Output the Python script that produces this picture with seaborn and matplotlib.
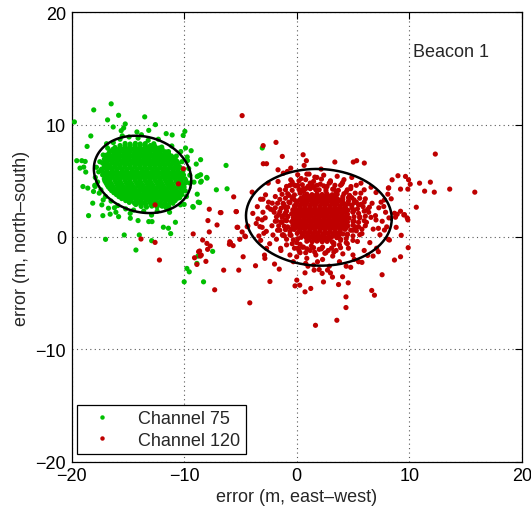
import numpy as np
import pandas as pd
import matplotlib
matplotlib.use("Agg")
import matplotlib.pyplot as plt
import seaborn as sns
from matplotlib.lines import Line2D

# ---------------- data ----------------
channels = ["Channel 75", "Channel 120"]
channel_colors = ["#00BF00", "#BF0000"]

# Channel 75: dense core
green_core = [
    (-13.82,2.72),(-13.35,2.66),(-12.88,2.75),(-12.41,2.68),(-11.96,2.74),
    (-14.88,3.08),(-14.42,3.01),(-13.97,3.07),(-13.53,3.03),(-13.06,3.10),(-12.61,3.02),(-12.17,3.06),(-11.72,3.00),(-11.25,3.08),
    (-15.55,3.42),(-15.12,3.37),(-14.66,3.44),(-14.20,3.38),(-13.74,3.43),(-13.29,3.36),(-12.84,3.41),(-12.38,3.45),(-11.93,3.37),(-11.47,3.42),(-11.02,3.39),(-10.60,3.44),
    (-16.02,3.77),(-15.58,3.72),(-15.13,3.79),(-14.69,3.73),(-14.22,3.78),(-13.79,3.71),(-13.33,3.76),(-12.88,3.80),(-12.44,3.72),(-11.98,3.77),(-11.53,3.74),(-11.08,3.79),(-10.64,3.73),(-10.22,3.77),
    (-16.45,4.12),(-16.01,4.07),(-15.54,4.13),(-15.11,4.08),(-14.64,4.11),(-14.21,4.06),(-13.74,4.14),(-13.31,4.09),(-12.84,4.12),(-12.41,4.07),(-11.94,4.13),(-11.51,4.08),(-11.04,4.11),(-10.61,4.06),(-10.14,4.12),
    (-16.75,4.47),(-16.29,4.42),(-15.86,4.48),(-15.39,4.43),(-14.96,4.46),(-14.49,4.41),(-14.06,4.49),(-13.59,4.44),(-13.16,4.47),(-12.69,4.42),(-12.26,4.48),(-11.79,4.43),(-11.36,4.46),(-10.89,4.41),(-10.46,4.49),(-10.01,4.44),
    (-16.95,4.82),(-16.52,4.77),(-16.04,4.83),(-15.61,4.78),(-15.14,4.81),(-14.71,4.76),(-14.24,4.84),(-13.81,4.79),(-13.34,4.82),(-12.91,4.77),(-12.44,4.83),(-12.01,4.78),(-11.54,4.81),(-11.11,4.76),(-10.64,4.84),(-10.21,4.79),(-9.86,4.82),
    (-17.10,5.17),(-16.66,5.12),(-16.19,5.18),(-15.76,5.13),(-15.29,5.16),(-14.86,5.11),(-14.39,5.19),(-13.96,5.14),(-13.49,5.17),(-13.06,5.12),(-12.59,5.18),(-12.16,5.13),(-11.69,5.16),(-11.26,5.11),(-10.79,5.19),(-10.36,5.14),(-9.92,5.17),
    (-17.25,5.52),(-16.81,5.47),(-16.34,5.53),(-15.91,5.48),(-15.44,5.51),(-15.01,5.46),(-14.54,5.54),(-14.11,5.49),(-13.64,5.52),(-13.21,5.47),(-12.74,5.53),(-12.31,5.48),(-11.84,5.51),(-11.41,5.46),(-10.94,5.54),(-10.51,5.49),(-10.06,5.52),
    (-17.30,5.87),(-16.86,5.82),(-16.39,5.88),(-15.96,5.83),(-15.49,5.86),(-15.06,5.81),(-14.59,5.89),(-14.16,5.84),(-13.69,5.87),(-13.26,5.82),(-12.79,5.88),(-12.36,5.83),(-11.89,5.86),(-11.46,5.81),(-10.99,5.89),(-10.56,5.84),(-10.11,5.87),
    (-17.10,6.22),(-16.66,6.17),(-16.19,6.23),(-15.76,6.18),(-15.29,6.21),(-14.86,6.16),(-14.39,6.24),(-13.96,6.19),(-13.49,6.22),(-13.06,6.17),(-12.59,6.23),(-12.16,6.18),(-11.69,6.21),(-11.26,6.16),(-10.79,6.24),(-10.36,6.19),
    (-17.25,6.57),(-16.81,6.52),(-16.34,6.58),(-15.91,6.53),(-15.44,6.56),(-15.01,6.51),(-14.54,6.59),(-14.11,6.54),(-13.64,6.57),(-13.21,6.52),(-12.74,6.58),(-12.31,6.53),(-11.84,6.56),(-11.41,6.51),(-10.94,6.59),(-10.51,6.54),
    (-17.10,6.92),(-16.66,6.87),(-16.19,6.93),(-15.76,6.88),(-15.29,6.91),(-14.86,6.86),(-14.39,6.94),(-13.96,6.89),(-13.49,6.92),(-13.06,6.87),(-12.59,6.93),(-12.16,6.88),(-11.69,6.91),(-11.26,6.86),(-10.81,6.94),
    (-16.95,7.27),(-16.52,7.22),(-16.04,7.28),(-15.61,7.23),(-15.14,7.26),(-14.71,7.21),(-14.24,7.29),(-13.81,7.24),(-13.34,7.27),(-12.91,7.22),(-12.44,7.28),(-12.01,7.23),(-11.54,7.26),(-11.14,7.21),
    (-16.60,7.62),(-16.16,7.57),(-15.69,7.63),(-15.26,7.58),(-14.79,7.61),(-14.36,7.56),(-13.89,7.64),(-13.46,7.59),(-12.99,7.62),(-12.56,7.57),(-12.09,7.63),(-11.66,7.58),
    (-16.15,7.97),(-15.71,7.92),(-15.24,7.98),(-14.81,7.93),(-14.34,7.96),(-13.91,7.91),(-13.44,7.99),(-13.01,7.94),(-12.54,7.97),(-12.21,7.92),
    (-15.25,8.32),(-14.81,8.27),(-14.34,8.33),(-13.91,8.28),(-13.46,8.31),
    (-14.30,2.89),(-13.85,2.86),(-13.40,2.90),(-12.95,2.87),(-12.50,2.91),(-12.05,2.86),(-11.60,2.89),
    (-15.20,3.24),(-14.75,3.21),(-14.30,3.25),(-13.85,3.22),(-13.40,3.26),(-12.95,3.21),(-12.50,3.24),(-12.05,3.22),(-11.60,3.25),(-11.15,3.21),(-10.80,3.24),
    (-15.80,3.59),(-15.35,3.56),(-14.90,3.60),(-14.45,3.57),(-14.00,3.61),(-13.55,3.56),(-13.10,3.59),(-12.65,3.57),(-12.20,3.60),(-11.75,3.56),(-11.30,3.59),(-10.85,3.57),(-10.40,3.60),
    (-16.25,3.94),(-15.80,3.91),(-15.35,3.95),(-14.90,3.92),(-14.45,3.96),(-14.00,3.91),(-13.55,3.94),(-13.10,3.92),(-12.65,3.95),(-12.20,3.91),(-11.75,3.94),(-11.30,3.92),(-10.85,3.95),(-10.40,3.91),
    (-16.60,4.29),(-16.15,4.26),(-15.70,4.30),(-15.25,4.27),(-14.80,4.31),(-14.35,4.26),(-13.90,4.29),(-13.45,4.27),(-13.00,4.30),(-12.55,4.26),(-12.10,4.29),(-11.65,4.27),(-11.20,4.30),(-10.75,4.26),(-10.30,4.29),
    (-16.85,4.64),(-16.40,4.61),(-15.95,4.65),(-15.50,4.62),(-15.05,4.66),(-14.60,4.61),(-14.15,4.64),(-13.70,4.62),(-13.25,4.65),(-12.80,4.61),(-12.35,4.64),(-11.90,4.62),(-11.45,4.65),(-11.00,4.61),(-10.55,4.64),(-10.10,4.62),
    (-17.05,4.99),(-16.60,4.96),(-16.15,5.00),(-15.70,4.97),(-15.25,5.01),(-14.80,4.96),(-14.35,4.99),(-13.90,4.97),(-13.45,5.00),(-13.00,4.96),(-12.55,4.99),(-12.10,4.97),(-11.65,5.00),(-11.20,4.96),(-10.75,4.99),(-10.30,4.97),(-9.85,5.00),
    (-16.90,5.34),(-16.45,5.31),(-16.00,5.35),(-15.55,5.32),(-15.10,5.36),(-14.65,5.31),(-14.20,5.34),(-13.75,5.32),(-13.30,5.35),(-12.85,5.31),(-12.40,5.34),(-11.95,5.32),(-11.50,5.35),(-11.05,5.31),(-10.60,5.34),(-10.15,5.32),
    (-17.05,5.69),(-16.60,5.66),(-16.15,5.70),(-15.70,5.67),(-15.25,5.71),(-14.80,5.66),(-14.35,5.69),(-13.90,5.67),(-13.45,5.70),(-13.00,5.66),(-12.55,5.69),(-12.10,5.67),(-11.65,5.70),(-11.20,5.66),(-10.75,5.69),(-10.30,5.67),
    (-17.35,6.04),(-16.90,6.01),(-16.45,6.05),(-16.00,6.02),(-15.55,6.06),(-15.10,6.01),(-14.65,6.04),(-14.20,6.02),(-13.75,6.05),(-13.30,6.01),(-12.85,6.04),(-12.40,6.02),(-11.95,6.05),(-11.50,6.01),(-11.05,6.04),(-10.60,6.02),
    (-17.05,6.39),(-16.60,6.36),(-16.15,6.40),(-15.70,6.37),(-15.25,6.41),(-14.80,6.36),(-14.35,6.39),(-13.90,6.37),(-13.45,6.40),(-13.00,6.36),(-12.55,6.39),(-12.10,6.37),(-11.65,6.40),(-11.20,6.36),(-10.75,6.39),
    (-16.90,6.74),(-16.45,6.71),(-16.00,6.75),(-15.55,6.72),(-15.10,6.76),(-14.65,6.71),(-14.20,6.74),(-13.75,6.72),(-13.30,6.75),(-12.85,6.71),(-12.40,6.74),(-11.95,6.72),(-11.50,6.75),(-11.05,6.71),(-10.65,6.74),
    (-16.75,7.09),(-16.30,7.06),(-15.85,7.10),(-15.40,7.07),(-14.95,7.11),(-14.50,7.06),(-14.05,7.09),(-13.60,7.07),(-13.15,7.10),(-12.70,7.06),(-12.25,7.09),(-11.80,7.07),(-11.35,7.10),(-10.95,7.06),
    (-16.70,7.44),(-16.25,7.41),(-15.80,7.45),(-15.35,7.42),(-14.90,7.46),(-14.45,7.41),(-14.00,7.44),(-13.55,7.42),(-13.10,7.45),(-12.65,7.41),(-12.20,7.44),(-11.75,7.42),(-11.40,7.45),
    (-16.35,7.79),(-15.90,7.76),(-15.45,7.80),(-15.00,7.77),(-14.55,7.81),(-14.10,7.76),(-13.65,7.79),(-13.20,7.77),(-12.75,7.80),(-12.30,7.76),(-11.95,7.79),
    (-15.70,8.14),(-15.25,8.11),(-14.80,8.15),(-14.35,8.12),(-13.90,8.16),(-13.45,8.11),(-13.00,8.14),(-12.65,8.12),
]

# Channel 75: fringe and outliers
green_outer = [
    (-17.6,5.8),(-17.7,4.9),(-17.5,6.7),(-17.4,4.2),(-17.2,7.3),(-17.0,3.6),(-16.8,7.9),(-16.5,3.2),
    (-16.3,8.4),(-15.9,2.8),(-15.7,8.7),(-15.2,2.5),(-14.9,8.9),(-14.5,2.4),(-14.1,8.8),(-13.6,2.3),
    (-13.2,8.6),(-12.7,8.3),(-12.4,2.3),(-12.0,8.0),(-11.6,2.6),(-11.4,7.6),(-11.0,3.0),(-10.7,7.2),
    (-10.4,3.5),(-10.2,6.7),(-9.9,4.1),(-9.6,6.1),(-9.5,4.8),(-9.5,5.5),(-9.8,3.6),(-17.9,5.3),
    (-17.55,3.9),(-16.9,8.3),(-15.5,9.0),(-13.8,9.1),(-12.3,8.7),(-11.1,8.1),(-10.3,7.6),(-9.7,6.8),
    (-10.0,2.9),(-11.3,2.2),(-12.9,1.95),(-14.8,2.1),(-16.2,2.6),(-17.2,3.3),(-17.8,6.2),(-17.95,4.6),
    (-16.49,11.85),(-18.04,11.31),(-19.76,10.24),(-16.81,10.42),(-15.83,10.83),(-13.51,10.69),(-15.24,10.06),
    (-16.31,9.79),(-15.6,9.46),(-15.38,9.7),(-12.56,10.0),(-13.15,9.49),(-14.2,9.35),(-11.6,9.2),(-11.07,9.08),
    (-9.94,9.4),(-10.09,9.04),(-18.3,8.99),(-18.63,8.06),(-9.88,7.92),(-9.38,7.68),(-9.73,7.12),(-8.54,6.88),
    (-8.93,6.49),(-19.55,6.79),(-19.1,6.79),(-18.8,6.72),(-19.26,6.13),(-18.75,5.78),(-18.93,6.22),(-8.84,5.38),
    (-8.54,5.54),(-8.0,5.3),(-9.13,4.88),(-8.54,4.88),(-7.14,4.2),(-19.0,4.49),(-18.57,4.35),(-17.92,4.49),
    (-18.06,4.05),(-8.84,3.81),(-8.75,3.1),(-9.23,2.71),(-18.13,3.01),(-17.32,2.86),(-16.73,2.56),(-16.07,2.2),
    (-18.5,1.9),(-17.23,1.9),(-16.58,2.03),(-15.83,1.81),(-14.79,1.67),(-14.1,1.46),(-13.15,1.37),(-12.86,1.37),
    (-10.78,1.31),(-11.37,2.71),(-10.33,2.86),(-15.33,0.18),(-16.99,-0.21),(-13.99,0.18),(-12.89,-0.33),
    (-14.29,-1.16),(-11.85,0.87),(-11.4,0.78),(-11.2,0.3),(-7.47,-1.28),(-9.76,-2.8),(-9.55,-3.1),(-10.0,-3.99),
    (-8.28,-3.99),(-8.78,-1.7),(-8.87,-2.35),(-6.19,4.29),(-6.28,6.37),(-7.97,5.24),(-9.2,2.65),(-8.63,3.06),
    (-3.06,7.92),(-8.48,4.97),(-8.72,5.45),
]

# Channel 120: dense core
red_core = [
    (0.90,3.82),(1.36,3.77),(1.80,3.83),(2.26,3.78),(2.70,3.81),(3.16,3.76),
    (0.40,3.47),(0.86,3.42),(1.30,3.48),(1.76,3.43),(2.20,3.46),(2.66,3.41),(3.10,3.49),(3.56,3.44),
    (0.05,3.12),(0.51,3.07),(0.95,3.13),(1.41,3.08),(1.85,3.11),(2.31,3.06),(2.75,3.14),(3.21,3.09),(3.65,3.12),(4.11,3.07),
    (-0.20,2.77),(0.26,2.72),(0.70,2.78),(1.16,2.73),(1.60,2.76),(2.06,2.71),(2.50,2.79),(2.96,2.74),(3.40,2.77),(3.86,2.72),(4.30,2.78),
    (-0.35,2.42),(0.11,2.37),(0.55,2.43),(1.01,2.38),(1.45,2.41),(1.91,2.36),(2.35,2.44),(2.81,2.39),(3.25,2.42),(3.71,2.37),(4.15,2.43),(4.55,2.38),
    (-0.45,2.07),(0.01,2.02),(0.45,2.08),(0.91,2.03),(1.35,2.06),(1.81,2.01),(2.25,2.09),(2.71,2.04),(3.15,2.07),(3.61,2.02),(4.05,2.08),(4.51,2.03),
    (-0.30,1.72),(0.16,1.67),(0.60,1.73),(1.06,1.68),(1.50,1.71),(1.96,1.66),(2.40,1.74),(2.86,1.69),(3.30,1.72),(3.76,1.67),(4.20,1.73),(4.66,1.68),
    (-0.45,1.37),(0.01,1.32),(0.45,1.38),(0.91,1.33),(1.35,1.36),(1.81,1.31),(2.25,1.39),(2.71,1.34),(3.15,1.37),(3.61,1.32),(4.05,1.38),(4.51,1.33),
    (-0.35,1.02),(0.11,0.97),(0.55,1.03),(1.01,0.98),(1.45,1.01),(1.91,0.96),(2.35,1.04),(2.81,0.99),(3.25,1.02),(3.71,0.97),(4.15,1.03),(4.55,0.98),
    (-0.20,0.67),(0.26,0.62),(0.70,0.68),(1.16,0.63),(1.60,0.66),(2.06,0.61),(2.50,0.69),(2.96,0.64),(3.40,0.67),(3.86,0.62),(4.30,0.68),
    (0.05,0.32),(0.51,0.27),(0.95,0.33),(1.41,0.28),(1.85,0.31),(2.31,0.26),(2.75,0.34),(3.21,0.29),(3.65,0.32),(4.11,0.27),
    (0.40,-0.03),(0.86,-0.08),(1.30,-0.02),(1.76,-0.07),(2.20,-0.04),(2.66,-0.09),(3.10,-0.01),(3.56,-0.06),
    (0.90,-0.38),(1.36,-0.43),(1.80,-0.37),(2.26,-0.42),(2.70,-0.39),(3.16,-0.44),
    (0.65,3.64),(1.10,3.61),(1.55,3.65),(2.00,3.62),(2.45,3.66),(2.90,3.61),(3.35,3.64),
    (0.25,3.29),(0.70,3.26),(1.15,3.30),(1.60,3.27),(2.05,3.31),(2.50,3.26),(2.95,3.29),(3.40,3.27),(3.85,3.30),
    (-0.05,2.94),(0.40,2.91),(0.85,2.95),(1.30,2.92),(1.75,2.96),(2.20,2.91),(2.65,2.94),(3.10,2.92),(3.55,2.95),(4.00,2.91),(4.25,2.94),
    (-0.15,2.59),(0.30,2.56),(0.75,2.60),(1.20,2.57),(1.65,2.61),(2.10,2.56),(2.55,2.59),(3.00,2.57),(3.45,2.60),(3.90,2.56),(4.35,2.59),
    (-0.20,2.24),(0.25,2.21),(0.70,2.25),(1.15,2.22),(1.60,2.26),(2.05,2.21),(2.50,2.24),(2.95,2.22),(3.40,2.25),(3.85,2.21),(4.30,2.24),
    (-0.10,1.89),(0.35,1.86),(0.80,1.90),(1.25,1.87),(1.70,1.91),(2.15,1.86),(2.60,1.89),(3.05,1.87),(3.50,1.90),(3.95,1.86),(4.40,1.89),
    (-0.20,1.54),(0.25,1.51),(0.70,1.55),(1.15,1.52),(1.60,1.56),(2.05,1.51),(2.50,1.54),(2.95,1.52),(3.40,1.55),(3.85,1.51),(4.30,1.54),
    (-0.10,1.19),(0.35,1.16),(0.80,1.20),(1.25,1.17),(1.70,1.21),(2.15,1.16),(2.60,1.19),(3.05,1.17),(3.50,1.20),(3.95,1.16),(4.40,1.19),
    (-0.05,0.84),(0.40,0.81),(0.85,0.85),(1.30,0.82),(1.75,0.86),(2.20,0.81),(2.65,0.84),(3.10,0.82),(3.55,0.85),(4.00,0.81),(4.40,0.84),
    (0.25,0.49),(0.70,0.46),(1.15,0.50),(1.60,0.47),(2.05,0.51),(2.50,0.46),(2.95,0.49),(3.40,0.47),(3.85,0.50),
    (0.60,0.14),(1.05,0.11),(1.50,0.15),(1.95,0.12),(2.40,0.16),(2.85,0.11),(3.30,0.14),(3.75,0.12),
    (1.10,-0.21),(1.55,-0.24),(2.00,-0.20),(2.45,-0.23),(2.90,-0.19),
    # ragged band around the core
    (0.2,5.0),(0.8,5.1),(1.5,4.95),(2.2,5.15),(3.0,4.9),
    (-0.6,4.6),(-0.1,4.55),(0.5,4.65),(1.0,4.5),(1.8,4.6),(2.4,4.55),(3.4,4.6),(4.0,4.7),
    (-1.0,4.2),(-0.4,4.15),(0.2,4.25),(0.6,4.05),(1.2,4.3),(2.0,4.2),(2.6,4.1),(3.2,4.25),(3.7,4.15),(4.4,4.0),(4.8,4.3),
    (-1.3,3.8),(-0.8,3.85),(-0.2,3.75),(0.3,3.9),(3.6,3.8),(4.2,3.85),(4.7,3.7),(5.2,3.9),
    (-1.5,3.35),(-1.0,3.45),(-0.4,3.4),(4.1,3.35),(4.6,3.5),(5.1,3.3),(5.6,3.45),
    (-1.7,3.0),(-1.2,2.95),(-0.6,3.05),(4.6,2.95),(5.1,3.05),(5.5,2.85),(6.0,3.1),
    (-1.9,2.6),(-1.4,2.55),(-0.8,2.65),(4.9,2.6),(5.4,2.5),(5.9,2.7),(6.3,2.45),
    (-2.0,2.2),(-1.5,2.25),(-1.0,2.15),(5.0,2.25),(5.5,2.1),(6.0,2.3),
    (-1.8,1.8),(-1.3,1.75),(-0.8,1.85),(5.1,1.8),(5.6,1.7),(6.1,1.85),(6.6,1.75),
    (-1.9,1.4),(-1.4,1.35),(-0.9,1.45),(5.0,1.4),(5.5,1.3),(6.0,1.45),
    (-1.6,1.0),(-1.1,0.95),(5.0,1.05),(5.5,0.9),(6.1,1.0),
    (-1.5,0.6),(-1.0,0.65),(-0.6,0.5),(4.8,0.6),(5.3,0.55),(5.8,0.7),
    (-1.2,0.2),(-0.5,0.15),(4.5,0.25),(5.0,0.1),(5.6,0.2),
    (-0.9,-0.2),(-0.3,-0.25),(0.1,-0.15),(3.9,-0.2),(4.4,-0.15),(5.0,-0.3),
    (-0.4,-0.6),(0.3,-0.65),(3.3,-0.55),(3.8,-0.7),(4.5,-0.6),
    (0.1,-1.0),(0.9,-1.05),(1.5,-0.95),(2.2,-1.05),(3.1,-1.0),(3.9,-0.95),
    (0.8,-1.4),(1.6,-1.35),(2.5,-1.45),(3.3,-1.35),
]

# Channel 120: fringe inside the ellipse and outliers
red_outer = [
    (-1.0,1.5),(-0.9,2.3),(-0.8,0.9),(-0.7,3.1),(-0.6,0.2),(-0.3,3.6),(0.0,-0.5),(0.3,4.1),(0.5,-0.9),
    (0.8,4.3),(1.3,-0.8),(1.7,4.2),(2.3,-0.9),(2.6,4.3),(3.3,-0.7),(3.5,4.0),(3.9,-0.3),(4.1,3.6),
    (4.5,0.2),(4.6,3.2),(5.0,0.6),(5.1,1.4),(5.0,2.2),(4.9,2.8),(-1.2,1.9),(-1.1,2.8),(4.4,-0.5),
    (0.2,-1.2),(2.8,-1.2),(1.4,4.6),
    (-3.9,2.1),(-3.6,1.2),(-3.5,2.7),(-3.2,-0.3),(-3.0,2.2),(-2.8,1.7),(-2.7,0.5),(-2.5,3.1),(-2.4,-0.6),
    (-2.2,1.0),(-2.1,2.4),(-1.9,3.6),(-1.8,-0.2),(-1.7,0.6),(-1.6,2.0),(-1.5,4.2),(-1.4,-1.2),(-1.3,1.3),
    (-1.2,3.0),(-1.1,0.1),(-1.0,2.6),(-0.9,4.5),(-0.9,-0.7),(-0.8,1.8),(-0.7,3.7),(-0.6,-1.6),(-0.5,0.7),
    (-0.4,4.9),(-0.3,-2.2),(-0.2,3.3),
    (0.1,4.6),(0.4,5.2),(0.6,4.3),(0.9,5.6),(1.2,4.8),(1.5,4.4),(1.8,5.3),(2.1,4.7),(2.4,5.5),(2.7,4.5),
    (3.0,5.0),(3.3,4.3),(3.6,5.4),(3.9,4.6),(4.2,5.1),(4.5,4.2),(4.9,5.3),(5.3,4.6),(5.7,3.9),(6.0,4.2),
    (4.9,3.5),(5.1,2.4),(5.2,0.9),(5.3,3.1),(5.4,-0.4),(5.6,1.8),(5.7,2.9),(5.8,0.3),(6.0,-1.2),(6.1,3.4),
    (6.2,1.3),(6.4,2.2),(6.5,-0.5),(6.7,3.0),(6.8,0.7),(7.0,1.9),(7.1,-1.0),(7.3,2.6),(7.4,0.2),(7.6,1.4),
    (7.9,2.2),(8.0,0.9),(8.2,1.7),(8.4,3.4),(5.0,-1.6),(5.5,-2.2),(4.8,-2.7),
    (-0.2,-1.0),(0.3,-1.4),(0.6,-0.9),(0.9,-1.9),(1.2,-1.2),(1.5,-2.5),(1.7,-1.6),(2.0,-1.1),(2.3,-2.0),
    (2.6,-1.4),(2.9,-2.6),(3.2,-1.7),(3.5,-1.2),(3.8,-2.2),(4.1,-1.5),(4.4,-2.6),(4.6,-1.0),(3.0,-3.2),
    (2.0,-2.9),(1.0,-2.6),
    (-4.85,10.8),(-10.06,6.07),(-10.51,4.73),(-12.59,2.86),(-13.84,-0.18),(-12.59,-0.48),(-12.2,-2.05),
    (-7.29,-4.7),(-6.49,-2.95),(-5.15,-2.95),(-7.77,2.47),(-6.79,2.17),(-5.36,2.26),(-7.89,1.46),(-7.08,1.07),
    (-7.77,0.45),(-9.2,0.27),(-5.24,0.86),(-4.85,0.45),(-4.4,0.92),(-4.55,0.03),(-5.06,-0.21),(-5.89,-0.51),
    (-5.65,-0.77),(-5.98,-0.65),(-8.36,-0.27),(-7.98,-0.57),(-7.68,-0.8),(-7.92,-1.1),(-8.72,-1.31),(-8.57,-1.7),
    (-9.08,-1.85),(-8.87,-2.44),(-8.07,-2.17),(-4.76,-1.76),(-3.66,-2.56),(-4.17,-5.86),(-2.38,-3.96),(-2.83,-1.9),
    (-1.97,-2.41),(-2.98,8.13),(-1.84,8.42),(-1.28,7.17),(0.57,7.32),(0.86,6.79),(0.66,6.37),(-2.97,6.52),
    (-2.68,6.52),(-1.66,5.98),(-0.53,6.13),(3.39,6.67),(5.03,6.67),(5.33,6.79),(6.01,6.58),(2.17,6.04),
    (12.32,7.38),(15.83,3.99),(13.6,4.26),(11.88,4.88),(11.37,4.08),(12.23,3.99),(10.92,4.79),(9.0,5.45),
    (9.67,5.39),(9.94,5.09),(10.09,4.7),(8.48,5.09),(9.23,4.26),(9.88,4.26),(8.18,4.37),(10.63,2.65),
    (9.23,2.29),(9.58,1.99),(9.82,1.7),(8.93,2.02),(8.84,0.86),(9.29,0.15),(9.91,-0.95),(9.23,-1.76),
    (8.69,-2.05),(7.59,-3.36),(6.67,-4.76),(6.91,-5.18),(4.38,-5.33),(4.38,-6.28),(3.57,-7.41),(1.67,-7.86),
    (4.58,-4.08),(3.72,-4.23),(2.38,-4.0),(0.74,-4.88),(1.25,-4.58),(0.27,-4.29),(-0.15,-4.35),(0.01,-3.84),
    (0.74,-3.19),(-2.11,0.18),(-1.28,0.18),(-3.36,0.09),(-2.92,0.33),(-2.86,-1.61),(-1.55,-2.86),(-1.43,-1.01),
    (-2.68,-1.01),(0.0,-1.76),(-3.45,1.61),(-3.07,1.52),(-3.27,0.92),(-3.07,0.86),(-2.56,2.65),(-2.32,2.47),
    (-1.78,1.43),(-5.39,2.26),(-6.73,2.17),(-5.6,3.57),(-3.96,3.99),(-3.21,3.36),(-3.0,3.36),(-2.77,3.75),
    (-2.17,3.01),(-0.53,5.09),(-0.24,4.64),(-1.66,4.94),(-2.53,4.79),(-1.19,5.68),(-0.83,5.83),(0.09,5.54),
    (1.1,5.6),(1.61,5.33),(2.89,4.79),(4.08,4.85),(4.82,4.49),(5.71,4.79),(6.61,4.43),(7.05,3.96),
    (7.8,3.3),(7.5,3.1),(7.74,2.71),(6.46,2.65),(7.05,1.52),(7.26,0.77),(7.8,0.62),(8.24,-0.27),
    (7.26,-1.31),(6.79,-1.7),(6.31,-1.64),(5.8,-2.26),(5.12,-1.99),(4.08,-3.54),(3.18,-3.57),(2.74,-2.95),
    (2.26,-3.24),(1.55,-2.95),(0.8,-2.35),(1.85,-2.2),(8.15,4.35),(8.1,3.81),(8.69,2.11),(8.78,1.76),
    (9.52,1.96),(9.88,1.52),(8.15,-0.21),(-5.95,-0.42),(-4.61,0.09),(-5.3,0.86),(-4.34,0.98),(-8.63,-1.25),
    (-8.48,-1.61),
]

# Error ellipses (centre, semi-axes, orientation) per channel
ellipse_cx = [-13.7, 1.97]
ellipse_cy = [5.57, 1.75]
ellipse_a = [4.40, 6.48]
ellipse_b = [3.35, 4.30]
ellipse_angle = [-16.0, -2.0]

x_ticks = [-20, -10, 0, 10, 20]
y_ticks = [-20, -10, 0, 10, 20]
annotation = "Beacon 1"

# ---------------- build table ----------------
green_pts = green_core + green_outer
red_pts = red_core + red_outer
df = pd.DataFrame({
    "x": [p[0] for p in green_pts] + [p[0] for p in red_pts],
    "y": [p[1] for p in green_pts] + [p[1] for p in red_pts],
    "channel": [channels[0]] * len(green_pts) + [channels[1]] * len(red_pts),
})

# ---------------- plot ----------------
sns.set_theme(style="white")
plt.rcParams['font.family'] = ['Liberation Sans', 'DejaVu Sans']
plt.rcParams['axes.unicode_minus'] = True

fig = plt.figure(figsize=(5.31, 5.10), dpi=100)
ax = fig.add_axes([0.135, 0.0927, 0.8475, 0.8813])

sns.scatterplot(data=df, x="x", y="y", hue="channel",
                palette=dict(zip(channels, channel_colors)),
                s=14, linewidth=0, edgecolor="none", legend=False, ax=ax, zorder=3)

t = np.linspace(0, 2 * np.pi, 300)
for cx, cy, a, b, ang in zip(ellipse_cx, ellipse_cy, ellipse_a, ellipse_b, ellipse_angle):
    th = np.deg2rad(ang)
    ex = cx + a * np.cos(th) * np.cos(t) - b * np.sin(th) * np.sin(t)
    ey = cy + a * np.sin(th) * np.cos(t) + b * np.cos(th) * np.sin(t)
    ax.plot(ex, ey, color="black", lw=1.8, zorder=4)

ax.set_xlim(-20, 20)
ax.set_ylim(-20, 20)
ax.set_xticks(x_ticks)
ax.set_yticks(y_ticks)
ax.grid(True, linestyle=(0, (1, 3)), color="0.35", lw=0.8)
ax.set_axisbelow(True)
for sp in ax.spines.values():
    sp.set_color("black")
    sp.set_linewidth(0.9)
ax.tick_params(direction="in", length=5, width=0.8, top=True, right=True,
               labelsize=13, colors="black", pad=4)

ax.set_xlabel("error (m, east–west)", fontsize=13, labelpad=3)
ax.set_ylabel("error (m, north–south)", fontsize=13, labelpad=4)

ax.text(10.3, 16.5, annotation, fontsize=13, ha="left", va="center")

handles = [Line2D([], [], ls="none", marker="o", markersize=3.2,
                  markerfacecolor=c, markeredgecolor="none") for c in channel_colors]
leg = ax.legend(handles, channels, loc="lower left", bbox_to_anchor=(0.012, 0.017),
                borderaxespad=0, fontsize=13, frameon=True, fancybox=False,
                framealpha=1, edgecolor="black", handlelength=2.2,
                handletextpad=0.9, labelspacing=0.25, borderpad=0.3)
leg.get_frame().set_linewidth(0.9)
leg.set_zorder(5)

fig.savefig("out.png", dpi=100)
